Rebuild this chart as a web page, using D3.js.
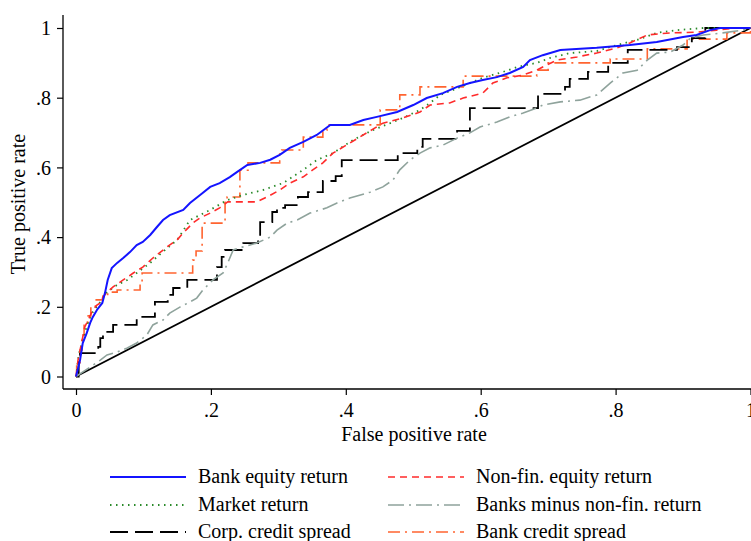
<!DOCTYPE html>
<html><head><meta charset="utf-8">
<script src="https://cdn.jsdelivr.net/npm/d3@7"></script>
<style>body{margin:0;background:#fff}svg{display:block}text{font-family:"Liberation Serif","Times New Roman",serif;fill:#000}</style>
</head><body><svg id="c" width="751" height="541"></svg>
<script>
// ---- data: [false positive rate, true positive rate] ----
const bankEquity = [[0,0],[.006,.047],[.010,.096],[.016,.125],[.021,.154],[.025,.171],[.031,.191],[.039,.211],[.043,.240],[.047,.277],[.053,.311],[.061,.326],[.070,.340],[.080,.357],[.090,.377],[.099,.386],[.110,.406],[.120,.429],[.129,.449],[.139,.463],[.159,.478],[.169,.498],[.184,.521],[.199,.544],[.213,.555],[.228,.572],[.239,.587],[.254,.607],[.273,.613],[.288,.622],[.302,.636],[.317,.656],[.337,.673],[.357,.693],[.377,.722],[.406,.722],[.426,.736],[.446,.745],[.476,.759],[.500,.779],[.520,.799],[.544,.813],[.565,.831],[.584,.842],[.603,.851],[.624,.859],[.643,.871],[.663,.888],[.673,.908],[.692,.922],[.718,.937],[.772,.943],[.821,.951],[.861,.960],[.900,.974],[.920,.980],[.940,.994],[.955,1],[1,1]];
const nonFinEquity = [[0,0],[.003,.047],[.010,.113],[.013,.142],[.018,.162],[.025,.191],[.031,.205],[.036,.211],[.040,.228],[.046,.242],[.055,.257],[.070,.277],[.085,.297],[.099,.314],[.114,.340],[.135,.372],[.150,.392],[.159,.412],[.173,.440],[.184,.455],[.199,.469],[.213,.484],[.225,.501],[.268,.501],[.283,.515],[.302,.535],[.317,.555],[.337,.573],[.351,.593],[.366,.613],[.381,.641],[.406,.670],[.431,.699],[.455,.727],[.485,.742],[.510,.759],[.525,.779],[.554,.785],[.574,.799],[.603,.813],[.618,.842],[.639,.857],[.663,.865],[.683,.879],[.692,.888],[.713,.908],[.743,.917],[.772,.928],[.802,.943],[.821,.957],[.847,.980],[.881,.986],[.921,.988],[.950,.994],[.980,1],[1,1]];
const marketReturn = [[0,0],[.004,.062],[.012,.119],[.018,.156],[.025,.185],[.036,.214],[.046,.242],[.061,.263],[.076,.277],[.090,.297],[.110,.326],[.132,.363],[.150,.392],[.169,.449],[.199,.478],[.224,.506],[.248,.521],[.277,.535],[.307,.555],[.337,.593],[.357,.621],[.381,.641],[.411,.679],[.440,.707],[.466,.727],[.485,.742],[.510,.765],[.525,.785],[.540,.808],[.559,.822],[.584,.842],[.603,.857],[.633,.874],[.654,.888],[.683,.900],[.703,.914],[.732,.928],[.772,.934],[.802,.951],[.832,.966],[.861,.986],[.891,.994],[.930,1],[1,1]];
const banksMinusNonFin = [[0,0],[.021,.027],[.036,.047],[.046,.062],[.061,.070],[.076,.082],[.090,.096],[.105,.119],[.114,.148],[.129,.162],[.139,.182],[.154,.199],[.169,.214],[.179,.225],[.188,.248],[.203,.277],[.218,.297],[.225,.326],[.233,.363],[.248,.372],[.268,.383],[.288,.400],[.298,.420],[.313,.440],[.328,.449],[.347,.469],[.372,.484],[.387,.498],[.406,.512],[.436,.529],[.455,.544],[.470,.564],[.480,.593],[.495,.621],[.510,.641],[.525,.656],[.544,.664],[.565,.684],[.584,.699],[.599,.716],[.624,.730],[.643,.745],[.663,.756],[.683,.770],[.692,.779],[.718,.788],[.747,.793],[.772,.808],[.792,.842],[.811,.871],[.832,.879],[.847,.908],[.861,.928],[.881,.931],[.900,.951],[.911,.971],[.930,.980],[.959,.986],[.989,.994],[1,1]];
const corpCreditSpread = [[0,0],[.004,.047],[.006,.067],[.033,.085],[.036,.110],[.040,.128],[.055,.148],[.090,.171],[.117,.214],[.136,.234],[.144,.254],[.165,.277],[.209,.314],[.216,.343],[.221,.363],[.248,.383],[.270,.400],[.273,.443],[.291,.472],[.298,.484],[.310,.492],[.329,.515],[.344,.529],[.366,.561],[.385,.575],[.394,.621],[.477,.641],[.506,.659],[.514,.682],[.565,.705],[.584,.770],[.685,.811],[.725,.831],[.732,.854],[.759,.874],[.789,.900],[.818,.937],[.891,.945],[.913,.971],[.933,1],[1,1]];
const bankCreditSpread = [[0,0],[.001,.033],[.006,.076],[.009,.119],[.012,.156],[.018,.174],[.022,.202],[.030,.220],[.040,.231],[.047,.242],[.061,.248],[.095,.271],[.098,.297],[.173,.334],[.178,.360],[.187,.440],[.221,.506],[.224,.515],[.243,.592],[.255,.613],[.302,.641],[.305,.650],[.337,.687],[.366,.707],[.372,.722],[.451,.765],[.480,.808],[.510,.831],[.574,.862],[.683,.879],[.700,.900],[.792,.911],[.847,.940],[.906,.968],[.965,.986],[1,1]];
const reference = [[0,0],[1,1]];
const tickValues = [0, .2, .4, .6, .8, 1];
const tickLabels = ["0", ".2", ".4", ".6", ".8", "1"];
const seriesNames = ["Bank equity return","Non-fin. equity return","Market return","Banks minus non-fin. return","Corp. credit spread","Bank credit spread"];

// ---- drawing ----
const svg = d3.select("#c");
const x = d3.scaleLinear().domain([0,1]).range([76, 750.5]);
const y = d3.scaleLinear().domain([0,1]).range([376.5, 28]);
const axL = 63, axB = 389, axTop = 15;
const FS = 20;

const styles = [
  {data: bankEquity, color:"#1414ff", w:2, dash:null, curve:d3.curveLinear},
  {data: nonFinEquity, color:"#ff2b2b", w:1.6, dash:"7,5", curve:d3.curveLinear},
  {data: marketReturn, color:"#2a8a2a", w:1.8, dash:"1.5,4.5", curve:d3.curveLinear},
  {data: banksMinusNonFin, color:"#8fa39c", w:1.6, dash:"16,5,2,5", curve:d3.curveLinear},
  {data: corpCreditSpread, color:"#000000", w:1.8, dash:"18,7", curve:d3.curveStepAfter},
  {data: bankCreditSpread, color:"#ff6430", w:1.6, dash:"12,5,2,5", curve:d3.curveStepAfter}
];

// axes
const yAxis = d3.axisLeft(y).tickValues(tickValues).tickFormat((d,i)=>tickLabels[i]).tickSize(6).tickPadding(6);
const gy = svg.append("g").attr("transform",`translate(${axL},0)`).call(yAxis);
gy.select(".domain").remove();
gy.selectAll("text").attr("font-size",FS).attr("font-family","Liberation Serif").attr("dy","0.34em");
gy.selectAll("line").attr("stroke","#000").attr("stroke-width",1.2);
const xAxis = d3.axisBottom(x).tickValues(tickValues).tickFormat((d,i)=>tickLabels[i]).tickSize(6).tickPadding(8);
const gx = svg.append("g").attr("transform",`translate(0,${axB})`).call(xAxis);
gx.select(".domain").remove();
gx.selectAll("text").attr("font-size",FS).attr("font-family","Liberation Serif");
gx.selectAll("line").attr("stroke","#000").attr("stroke-width",1.2);
svg.append("line").attr("x1",axL).attr("x2",axL).attr("y1",axTop).attr("y2",axB).attr("stroke","#000").attr("stroke-width",1.3);
svg.append("line").attr("x1",axL).attr("x2",751).attr("y1",axB).attr("y2",axB).attr("stroke","#000").attr("stroke-width",1.3);

svg.append("text").attr("x",414).attr("y",441).attr("text-anchor","middle").attr("font-size",FS).text("False positive rate");
svg.append("text").attr("transform",`translate(25,${(axTop+axB)/2+2}) rotate(-90)`).attr("text-anchor","middle").attr("font-size",FS).text("True positive rate");

// reference diagonal
const line = d3.line().x(d=>x(d[0])).y(d=>y(d[1]));
svg.append("path").attr("d", line(reference)).attr("fill","none").attr("stroke","#000").attr("stroke-width",1.8);

// series (draw in reverse so blue on top)
[...styles].reverse().forEach(s=>{
  svg.append("path").attr("d", d3.line().x(d=>x(d[0])).y(d=>y(d[1])).curve(s.curve)(s.data))
    .attr("fill","none").attr("stroke",s.color).attr("stroke-width",s.w)
    .attr("stroke-dasharray",s.dash).attr("stroke-linejoin","miter");
});

// legend
const legX = [110, 388], legY = [477, 505, 532];
styles.forEach((s,i)=>{
  const col = i%2, row = Math.floor(i/2);
  const lx = legX[col], ly = legY[row];
  svg.append("line").attr("x1",lx).attr("x2",lx+76).attr("y1",ly).attr("y2",ly)
    .attr("stroke",s.color).attr("stroke-width",s.w).attr("stroke-dasharray",s.dash);
  svg.append("text").attr("x",lx+88).attr("y",ly+6).attr("font-size",FS).text(seriesNames[i]);
});
</script></body></html>
